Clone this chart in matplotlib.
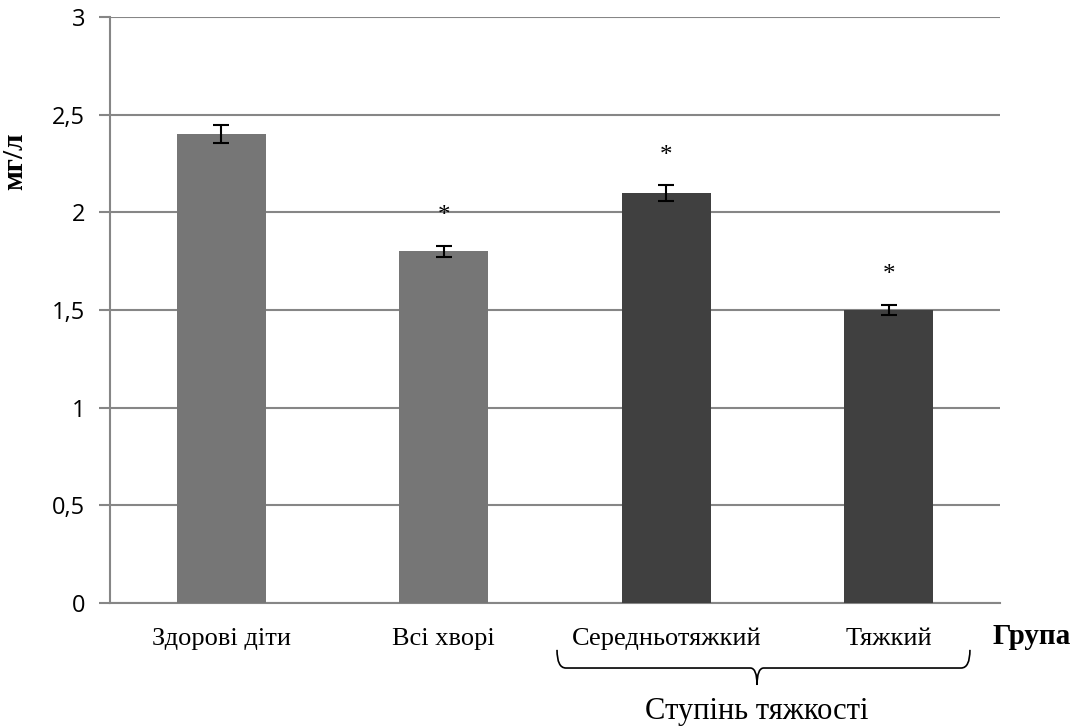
import matplotlib
matplotlib.use("Agg")
from matplotlib import pyplot as plt
from matplotlib.path import Path
from matplotlib.patches import PathPatch
import matplotlib.transforms as mtransforms

# data
groups = ["Здорові діти", "Всі хворі", "Середньотяжкий", "Тяжкий"]
values = [2.40, 1.80, 2.10, 1.50]
errors = [0.045, 0.03, 0.04, 0.025]
star_heights = [None, 1.98, 2.29, 1.68]
bar_colors = ["#767676", "#767676", "#404040", "#404040"]
yticks = [0, 0.5, 1, 1.5, 2, 2.5, 3]
ytick_labels = ["0", "0,5", "1", "1,5", "2", "2,5", "3"]

fig = plt.figure(figsize=(10.84, 7.27), dpi=100)
ax = fig.add_axes([0.1015, 0.1706, 0.821, 0.806])

x = list(range(len(groups)))
ax.bar(x, values, width=0.4, color=bar_colors, zorder=3)
ax.errorbar(x, values, yerr=errors, fmt="none", ecolor="black",
            elinewidth=1.5, capsize=6, capthick=1.5, zorder=4)

for xi, h in zip(x, star_heights):
    if h is not None:
        ax.text(xi, h, "*", ha="center", va="center", fontsize=18,
                family="Liberation Serif")

ax.set_xlim(-0.5, len(groups) - 0.5)
ax.set_ylim(0, 3)
ax.set_yticks(yticks)
ax.set_yticklabels(ytick_labels, family="Open Sans", fontsize=17)
ax.yaxis.grid(True, color="#868686", linewidth=1.5, zorder=0)
ax.set_axisbelow(True)
ax.tick_params(axis="y", length=8, width=1.5, color="#868686", pad=10)
ax.tick_params(axis="x", length=0, pad=18)
ax.set_xticks(x)
ax.set_xticklabels(groups, family="Liberation Serif", fontsize=19)

for side in ["top", "right"]:
    ax.spines[side].set_visible(False)
for side in ["left", "bottom"]:
    ax.spines[side].set_color("#868686")
    ax.spines[side].set_linewidth(1.5)

ax.set_ylabel("мг/л", family="Liberation Serif", fontweight="bold",
              fontsize=21)
ax.yaxis.set_label_coords(-0.092, 0.754)

ax.text(0.992, -0.058, "Група", transform=ax.transAxes, ha="left", va="center",
        family="Liberation Serif", fontweight="bold", fontsize=21)

# brace under the severity groups
trans = mtransforms.blended_transform_factory(ax.transData, ax.transAxes)
xl, xm, xr = 1.509, 2.408, 3.365
yt, yb, yp = -0.080, -0.111, -0.140
verts = [(xl, yt), (xl, yb), (xl + 0.04, yb),
         (xm - 0.03, yb), (xm, yb), (xm, yp),
         (xm, yb), (xm + 0.03, yb),
         (xr - 0.04, yb), (xr, yb), (xr, yt)]
codes = [Path.MOVETO, Path.CURVE3, Path.CURVE3,
         Path.LINETO, Path.CURVE3, Path.CURVE3,
         Path.CURVE3, Path.CURVE3,
         Path.LINETO, Path.CURVE3, Path.CURVE3]
brace = PathPatch(Path(verts, codes), transform=trans, fill=False,
                  edgecolor="black", linewidth=1.2, clip_on=False)
ax.add_patch(brace)

ax.text(xm, -0.185, "Ступінь тяжкості", transform=trans, ha="center",
        va="center", family="Liberation Serif", fontsize=22)

fig.savefig("out.png", dpi=100)
